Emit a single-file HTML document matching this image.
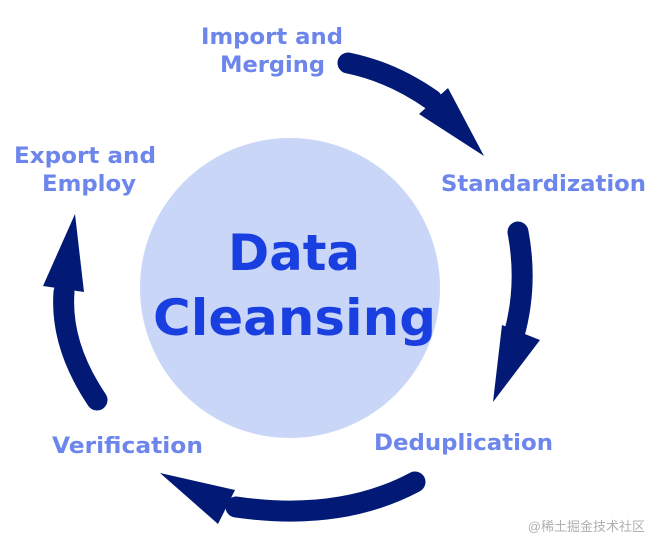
<!DOCTYPE html>
<html><head><style>
body{margin:0;width:660px;height:550px;background:#fff;overflow:hidden;position:relative}
text{font-family:"DejaVu Sans","Liberation Sans",sans-serif;font-weight:bold}
.l{fill:#6d86ec;font-size:22px}
</style></head><body>
<svg width="660" height="550" style="position:absolute;left:0;top:0">
<circle cx="290" cy="288" r="150" fill="#c9d6f7"/>
<g fill="none" stroke="#021a75" stroke-width="21" stroke-linecap="round">
<path d="M348,63 Q392,72 432,100"/>
<path d="M518,232 Q528,285 514,335"/>
<path d="M415,482 Q340,522 236,507"/>
<path d="M97,400 Q60,345 64,292"/>
</g>
<g fill="#021a75">
<polygon points="419,114 448,88 484,156"/>
<polygon points="502,325 540,340 493,402"/>
<polygon points="235,490 218,524 160,473"/>
<polygon points="43,286 84,292 75,214"/>
</g>
<text x="228" y="270" font-size="50" fill="#1a3fe0" textLength="132" lengthAdjust="spacingAndGlyphs">Data</text>
<text x="153" y="335" font-size="50" fill="#1a3fe0" textLength="283" lengthAdjust="spacingAndGlyphs">Cleansing</text>
<text class="l" x="201" y="44" textLength="142" lengthAdjust="spacingAndGlyphs">Import and</text>
<text class="l" x="220" y="72" textLength="105" lengthAdjust="spacingAndGlyphs">Merging</text>
<text class="l" x="14" y="163" textLength="142" lengthAdjust="spacingAndGlyphs">Export and</text>
<text class="l" x="42" y="191" textLength="94" lengthAdjust="spacingAndGlyphs">Employ</text>
<text class="l" x="441" y="191" textLength="205" lengthAdjust="spacingAndGlyphs">Standardization</text>
<text class="l" x="374" y="450" textLength="179" lengthAdjust="spacingAndGlyphs">Deduplication</text>
<text class="l" x="52" y="453" textLength="151" lengthAdjust="spacingAndGlyphs">Verification</text>
<text x="645" y="531" text-anchor="end" style="font-family:'Liberation Sans','Noto Sans CJK SC',sans-serif;font-weight:normal" font-size="13" fill="#b0b0b0">@稀土掘金技术社区</text>
</svg>
</body></html>
